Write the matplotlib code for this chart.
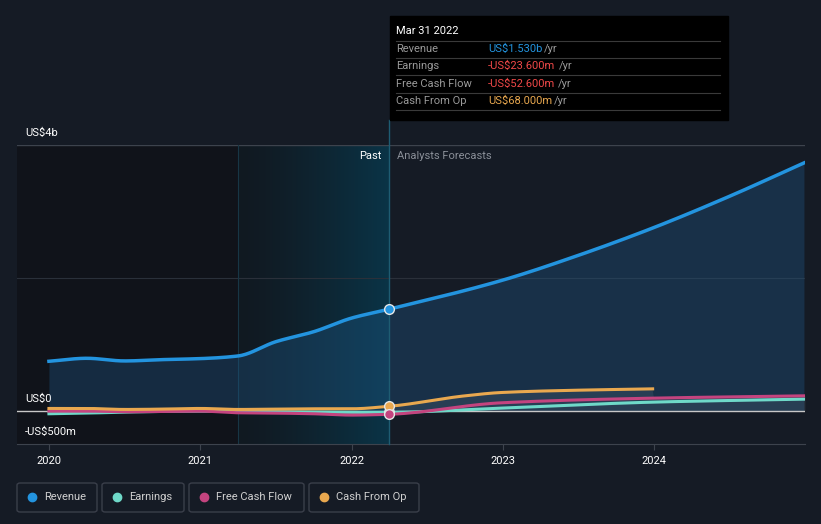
import matplotlib
matplotlib.use("Agg")
import matplotlib.pyplot as plt
import numpy as np
from matplotlib.patches import Rectangle, FancyBboxPatch
from matplotlib.lines import Line2D

plt.rcParams['font.family'] = ['Roboto', 'DejaVu Sans']

# data (US$ millions)
rev_past_t = [2020.0, 2020.25, 2020.5, 2020.75, 2021.0, 2021.25, 2021.5, 2021.75, 2022.0, 2022.25]
rev_past = [745, 790, 750, 770, 785, 825, 1040, 1190, 1395, 1530]
rev_fc_t = [2022.25, 2022.99, 2023.5, 2023.99, 2024.5, 2024.99]
rev_fc = [1530, 1960, 2340, 2750, 3230, 3730]

earn_past = [-45, -35, -20, -10, -5, -10, -15, -20, -25, -23.6]
fcf_past = [-5, -5, -15, -10, -5, -30, -35, -45, -65, -52.6]
cfo_past = [35, 35, 20, 25, 35, 20, 25, 30, 30, 68]

earn_fc_t = [2022.25, 2022.99, 2023.99, 2024.99]
earn_fc = [-23.6, 40, 130, 175]
fcf_fc_t = [2022.25, 2022.99, 2023.99, 2024.99]
fcf_fc = [-52.6, 120, 190, 225]
cfo_fc_t = [2022.25, 2022.75, 2022.99, 2023.5, 2023.99]
cfo_fc = [68, 225, 275, 310, 330]

years = [2020, 2021, 2022, 2023, 2024]
ytick_vals = [-500, 0, 4000]
ytick_labels = ['-US$500m', 'US$0', 'US$4b']

now = 2022.25
past_start = 2021.25

C_REV = '#2394df'
C_EARN = '#6fd9c9'
C_FCF = '#c4447f'
C_CFO = '#e9a84f'
BG = '#151b25'


def smooth(t, v, n=30):
    # monotone cubic (pchip-like) just for drawing
    t = np.asarray(t, float)
    v = np.asarray(v, float)
    h = np.diff(t)
    d = np.diff(v) / h
    m = np.zeros_like(v)
    m[0], m[-1] = d[0], d[-1]
    for i in range(1, len(v) - 1):
        if d[i - 1] * d[i] > 0:
            w1 = 2 * h[i] + h[i - 1]
            w2 = h[i] + 2 * h[i - 1]
            m[i] = (w1 + w2) / (w1 / d[i - 1] + w2 / d[i])
    xs, ys = [], []
    for i in range(len(h)):
        s = np.linspace(0, 1, n, endpoint=(i == len(h) - 1))
        h00 = 2 * s**3 - 3 * s**2 + 1
        h10 = s**3 - 2 * s**2 + s
        h01 = -2 * s**3 + 3 * s**2
        h11 = s**3 - s**2
        xs.append(t[i] + s * h[i])
        ys.append(h00 * v[i] + h10 * h[i] * m[i] + h01 * v[i + 1] + h11 * h[i] * m[i + 1])
    return np.concatenate(xs), np.concatenate(ys)


W, H = 821, 524
fig = plt.figure(figsize=(W / 100, H / 100), dpi=100, facecolor=BG)


def fx(x):
    return x / W


def fy(y):
    return 1 - y / H


ax = fig.add_axes([fx(17), fy(444), fx(805) - fx(17), fy(145) - fy(444)])
ax.set_facecolor(BG)
x0, x1 = 2019.789, 2024.997

# darker area before the past window
ax.axvspan(x0, past_start, color='#10131a', zorder=0)
# past window gradient
grad = np.zeros((2, 256, 4))
c0 = np.array([0x11, 0x19, 0x21]) / 255
c1 = np.array([0x0a, 0x34, 0x47]) / 255
for i in range(256):
    f = (i / 255) ** 1.3
    grad[:, i, :3] = c0 * (1 - f) + c1 * f
    grad[:, i, 3] = 1
ax.imshow(grad, extent=[past_start, now, -500, 4000], aspect='auto', zorder=0.5)
ax.set_xlim(x0, x1)
ax.set_ylim(-500, 4000)

# gridlines
ax.axhline(2000, color='#2a303a', lw=0.8, zorder=1)
ax.axhline(4000, color='#3d434d', lw=1, zorder=1)
ax.axhline(0, color='#c8c8c8', lw=1, zorder=2)
ax.axvline(past_start, color='#173645', lw=0.8, zorder=1)

# revenue line + fill
rt, rv = smooth(rev_past_t + rev_fc_t[1:], rev_past + rev_fc[1:])
ax.fill_between(rt, 0, rv, color='#1f5a8a', alpha=0.35, lw=0, zorder=1.5)

# forecast fill for smaller series
et, ev = smooth(rev_past_t + earn_fc_t[1:], earn_past + earn_fc[1:])
pt, pv = smooth(rev_past_t + fcf_fc_t[1:], fcf_past + fcf_fc[1:])
ct, cv = smooth(rev_past_t + cfo_fc_t[1:], cfo_past + cfo_fc[1:])
ft = np.linspace(now, x1, 300)
cfo_i = np.interp(ft, ct, cv, right=np.nan)
fcf_i = np.interp(ft, pt, pv)
earn_i = np.interp(ft, et, ev)
top = np.nanmax(np.vstack([cfo_i, fcf_i, earn_i]), axis=0)
ax.fill_between(ft, 0, np.maximum(top, 0), color='#ffffff', alpha=0.07, lw=0, zorder=1.6)

lw = 2.2
ax.plot(et, ev, color=C_EARN, lw=lw, zorder=3)
ax.plot(pt, pv, color=C_FCF, lw=lw, zorder=3.1)
ax.plot(ct, cv, color=C_CFO, lw=lw, zorder=3.2)
ax.plot(rt, rv, color=C_REV, lw=2.5, zorder=4)

# markers at now
for v, c in [(rev_past[-1], C_REV), (earn_past[-1], C_EARN), (cfo_past[-1], C_CFO), (fcf_past[-1], C_FCF)]:
    ax.plot([now], [v], 'o', ms=7, color=c, mec='#e6e6e6', mew=1, zorder=5)

# now line extending up to tooltip
ax.plot([now, now], [-500, 4000 + 25 * 4500 / 299], color='#1e5c72', lw=1, clip_on=False, zorder=4.5)

ax.text(2022.2, 3830, 'Past', color='#ffffff', fontsize=8, ha='right', va='center', zorder=6)
ax.text(2022.3, 3830, 'Analysts Forecasts', color='#8a8f98', fontsize=8, ha='left', va='center', zorder=6)

for s in ['top', 'right', 'left']:
    ax.spines[s].set_visible(False)
ax.spines['bottom'].set_color('#3d434d')
ax.set_yticks([])
ax.set_xticks(years)
ax.set_xticklabels([str(y) for y in years], color='#ffffff', fontsize=8)
ax.tick_params(axis='x', colors='#3d434d', length=4, pad=5, labelcolor='#ffffff')

# y labels
for val, lab in zip(ytick_vals, ytick_labels):
    ax.text(0.01, val + 180, lab, transform=ax.get_yaxis_transform(), color='#ffffff', fontsize=8, va='center')

# tooltip
fig.patches.append(Rectangle((fx(390), fy(120)), fx(728) - fx(390), fy(16) - fy(120),
                             transform=fig.transFigure, color='#000000', zorder=10))
fig.text(fx(396), fy(31), 'Mar 31 2022', color='#ffffff', fontsize=8, va='center', zorder=11)
for ly in [41, 58, 75, 93, 110]:
    fig.add_artist(Line2D([fx(396), fx(720)], [fy(ly), fy(ly)], color='#3a3a3a', lw=0.8, zorder=11))
rows = [('Revenue', 'US$1.530b', C_REV, 544, 49),
        ('Earnings', '-US$23.600m', '#f04848', 559, 66),
        ('Free Cash Flow', '-US$52.600m', '#f04848', 558, 84),
        ('Cash From Op', 'US$68.000m', C_CFO, 554, 101)]
for lab, val, col, yrx, ry in rows:
    fig.text(fx(396), fy(ry), lab, color='#9a9a9a', fontsize=8, va='center', zorder=11)
    fig.text(fx(488), fy(ry), val, color=col, fontsize=8, va='center', zorder=11)
    fig.text(fx(yrx), fy(ry), '/yr', color='#9a9a9a', fontsize=8, va='center', zorder=11)

# legend
legend = [('Revenue', C_REV, 17, 97), ('Earnings', C_EARN, 102, 184),
          ('Free Cash Flow', C_FCF, 189, 304), ('Cash From Op', C_CFO, 309, 419)]
for lab, col, lx0, lx1 in legend:
    fig.patches.append(FancyBboxPatch((fx(lx0), fy(512)), fx(lx1) - fx(lx0), fy(483) - fy(512),
                                      boxstyle='round,pad=0,rounding_size=0.004',
                                      transform=fig.transFigure, fc='none', ec='#3a3f4a', lw=1))
    fig.add_artist(Line2D([fx(lx0 + 15)], [fy(497)], marker='o', ms=6, color=col, lw=0))
    fig.text(fx(lx0 + 27), fy(497), lab, color='#d0d0d0', fontsize=8, va='center')

fig.savefig('out.png', dpi=100, facecolor=BG)
